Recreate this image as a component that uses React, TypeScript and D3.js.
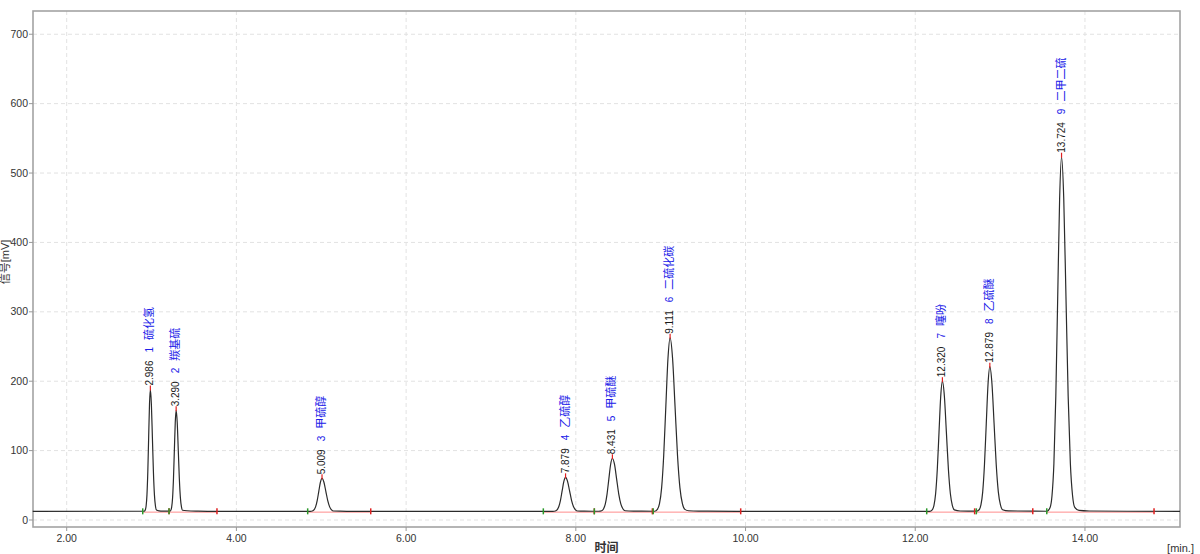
import React, { useEffect, useRef } from 'react';
import * as d3 from 'd3';

// peak table (retention time, apex signal, name, integration window)
const peakTimes = [2.986, 3.29, 5.009, 7.879, 8.431, 9.111, 12.32, 12.879, 13.724];
const peakHeights = [188, 158, 60, 61.5, 89, 262.5, 200, 221, 523.5];
const peakNames = ['硫化氢', '羰基硫', '甲硫醇', '乙硫醇', '甲硫醚', '二硫化碳', '噻吩', '乙硫醚', '二甲二硫'];
const peakStarts = [2.896, 3.206, 4.84, 7.617, 8.218, 8.912, 12.135, 12.72, 13.55];
const peakEnds = [3.206, 3.771, 5.583, 8.218, 8.902, 9.943, 12.7, 13.385, 14.814];

const baselineLevel = 12.5;

const xTicks = [2, 4, 6, 8, 10, 12, 14];
const yTicks = [0, 100, 200, 300, 400, 500, 600, 700];

// detector trace [min, mV]
const trace: [number, number][] = [
  [1.6, 12.5], [2.9, 12.6], [2.916, 12.8],
  [2.926, 14.4], [2.936, 20.2], [2.946, 36.2], [2.956, 69.5], [2.966, 119], [2.976, 167.3], [2.986, 188],
  [2.998, 167.3], [3.01, 119], [3.022, 69.5], [3.034, 36.2], [3.046, 20.2], [3.058, 14.4], [3.09, 13.2], [3.13, 12.8],
  [3.215, 12.8],
  [3.227, 14.1], [3.2375, 18.9], [3.248, 32.1], [3.2585, 59.8], [3.269, 100.8], [3.2795, 140.8], [3.29, 158],
  [3.3025, 140.8], [3.315, 100.8], [3.3275, 59.8], [3.34, 32.1], [3.3525, 18.9], [3.365, 14.1], [3.42, 13.3], [3.55, 12.8], [3.77, 12.5],
  [4.87, 12.5],
  [4.895, 13.0], [4.914, 14.6], [4.933, 18.9], [4.952, 27.9], [4.971, 41.3], [4.99, 54.4], [5.009, 60],
  [5.0315, 54.4], [5.054, 41.3], [5.0765, 27.9], [5.099, 18.9], [5.1215, 14.6], [5.144, 13.0], [5.22, 12.7], [5.4, 12.5],
  [7.73, 12.5],
  [7.759, 13.0], [7.779, 14.7], [7.799, 19.1], [7.819, 28.4], [7.839, 42.2], [7.859, 55.7], [7.879, 61.5],
  [7.9025, 55.7], [7.926, 42.2], [7.9495, 28.4], [7.973, 19.1], [7.9965, 14.7], [8.02, 13.0], [8.1, 12.7],
  [8.27, 12.6],
  [8.305, 13.3], [8.326, 15.9], [8.347, 22.8], [8.368, 37.4], [8.389, 58.9], [8.41, 80.0], [8.431, 89],
  [8.456, 80.0], [8.481, 58.9], [8.506, 37.4], [8.531, 22.8], [8.556, 15.9], [8.581, 13.3], [8.68, 12.8],
  [8.93, 12.6],
  [8.961, 15.3], [8.986, 23.5], [9.011, 46.3], [9.036, 93.8], [9.061, 164.3], [9.086, 233], [9.111, 262.5],
  [9.14, 233], [9.169, 164.3], [9.198, 93.8], [9.227, 46.3], [9.256, 23.5], [9.285, 15.3], [9.33, 13.3], [9.45, 12.8], [9.9, 12.5],
  [12.17, 12.5],
  [12.2, 14.6], [12.22, 20.7], [12.24, 37.8], [12.26, 73.4], [12.28, 126.3], [12.3, 177.9], [12.32, 200],
  [12.3435, 177.9], [12.367, 126.3], [12.3905, 73.4], [12.414, 37.8], [12.4375, 20.7], [12.461, 14.6], [12.53, 13.0],
  [12.72, 12.7],
  [12.753, 14.8], [12.774, 21.7], [12.795, 40.6], [12.816, 80.3], [12.837, 139.1], [12.858, 196.4], [12.879, 221],
  [12.904, 196.4], [12.929, 139.1], [12.954, 80.3], [12.979, 40.6], [13.004, 21.7], [13.029, 14.8], [13.1, 13.1],
  [13.55, 12.6],
  [13.589, 18.1], [13.6115, 35], [13.634, 81.5], [13.6565, 178.5], [13.679, 322.5], [13.7015, 463.2], [13.724, 523.5],
  [13.75, 463.2], [13.776, 322.5], [13.802, 178.5], [13.828, 81.5], [13.854, 35], [13.88, 18.1], [13.93, 13.8], [14.05, 13.0],
  [14.5, 12.6], [15.12, 12.4],
];

const FONT = "'Liberation Sans', Arial, 'Noto Sans CJK SC', sans-serif";

const App: React.FC = () => {
  const svgRef = useRef<SVGSVGElement>(null);

  useEffect(() => {
    if (!svgRef.current) return;
    const W = 1200, H = 554;
    const left = 33, right = 1180, top = 11, bottom = 527;

    const svg = d3.select(svgRef.current);
    svg.selectAll('*').remove();
    svg.attr('width', W).attr('height', H);

    svg.append('rect').attr('width', W).attr('height', H).attr('fill', '#fff');

    const x = d3.scaleLinear().domain([1.603, 15.12]).range([left, right]);
    const y = d3.scaleLinear().domain([0, 733.5]).range([520, top]);

    // grid
    const grid = svg.append('g').attr('stroke', '#e2e2e2').attr('stroke-dasharray', '4,3').attr('stroke-width', 1);
    grid.selectAll('line.v').data(xTicks).enter().append('line')
      .attr('x1', d => x(d)).attr('x2', d => x(d)).attr('y1', top).attr('y2', bottom);
    grid.selectAll('line.h').data(yTicks).enter().append('line')
      .attr('x1', left).attr('x2', right).attr('y1', d => y(d)).attr('y2', d => y(d));

    // frame
    svg.append('rect')
      .attr('x', left).attr('y', top).attr('width', right - left).attr('height', bottom - top)
      .attr('fill', 'none').attr('stroke', '#a3a3a3').attr('stroke-width', 1.6);

    // y ticks
    const yAxis = svg.append('g');
    yAxis.selectAll('line').data(yTicks).enter().append('line')
      .attr('x1', left - 4).attr('x2', left).attr('y1', d => y(d)).attr('y2', d => y(d))
      .attr('stroke', '#999');
    yAxis.selectAll('text').data(yTicks).enter().append('text')
      .attr('x', left - 5).attr('y', d => y(d)).attr('dy', '0.35em')
      .attr('text-anchor', 'end').attr('font-family', FONT).attr('font-size', 10.5).attr('fill', '#333')
      .text(d => String(d));

    // x ticks
    const xAxis = svg.append('g');
    xAxis.selectAll('line').data(xTicks).enter().append('line')
      .attr('x1', d => x(d)).attr('x2', d => x(d)).attr('y1', bottom).attr('y2', bottom + 4)
      .attr('stroke', '#999');
    xAxis.selectAll('text').data(xTicks).enter().append('text')
      .attr('x', d => x(d)).attr('y', 542)
      .attr('text-anchor', 'middle').attr('font-family', FONT).attr('font-size', 10.5).attr('fill', '#333')
      .text(d => d.toFixed(2));

    // axis titles
    svg.append('text')
      .attr('x', (left + right) / 2).attr('y', 552).attr('text-anchor', 'middle')
      .attr('font-family', FONT).attr('font-size', 12).attr('font-weight', 'bold').attr('fill', '#333')
      .text('时间');
    svg.append('text')
      .attr('x', 1194).attr('y', 552).attr('text-anchor', 'end')
      .attr('font-family', FONT).attr('font-size', 11).attr('fill', '#333')
      .text('[min.]');
    svg.append('text')
      .attr('transform', `translate(6,${262}) rotate(-90)`)
      .attr('text-anchor', 'middle').attr('dominant-baseline', 'middle')
      .attr('font-family', FONT).attr('font-size', 11).attr('fill', '#333')
      .text('信号[mV]');

    const plot = svg.append('g');

    // integration baselines
    const yb = y(baselineLevel);
    plot.selectAll('line.base').data(peakStarts).enter().append('line')
      .attr('x1', (d) => x(d)).attr('x2', (_, i) => x(peakEnds[i]))
      .attr('y1', yb + 0.8).attr('y2', yb + 0.8)
      .attr('stroke', '#ff8c8c').attr('stroke-width', 1);

    // trace
    const line = d3.line<[number, number]>()
      .x(d => x(d[0])).y(d => y(d[1]))
      .curve(d3.curveMonotoneX);
    plot.append('path').datum(trace)
      .attr('d', line)
      .attr('fill', 'none').attr('stroke', '#2b2b2b').attr('stroke-width', 1.2);

    // start / end markers
    plot.selectAll('line.end').data(peakEnds).enter().append('line')
      .attr('x1', d => x(d)).attr('x2', d => x(d)).attr('y1', yb - 3).attr('y2', yb + 3)
      .attr('stroke', '#e02020').attr('stroke-width', 1.5);
    plot.selectAll('line.start').data(peakStarts).enter().append('line')
      .attr('x1', d => x(d)).attr('x2', d => x(d)).attr('y1', yb - 3).attr('y2', yb + 3)
      .attr('stroke', '#2a9a2a').attr('stroke-width', 1.5);

    // apex markers
    plot.selectAll('line.apex').data(peakTimes).enter().append('line')
      .attr('x1', d => x(d)).attr('x2', d => x(d))
      .attr('y1', (_, i) => y(peakHeights[i]) - 4).attr('y2', (_, i) => y(peakHeights[i]) + 1)
      .attr('stroke', '#e02020').attr('stroke-width', 1.2);

    // peak labels
    const labels = plot.selectAll('text.peak').data(peakTimes).enter().append('text')
      .attr('transform', (d, i) => `translate(${x(d)},${y(peakHeights[i]) - 4}) rotate(-90)`)
      .attr('dominant-baseline', 'middle')
      .attr('font-family', FONT).attr('font-size', 10);
    labels.append('tspan').attr('fill', '#1a1a1a').text(d => d.toFixed(3));
    labels.append('tspan').attr('dx', 8).attr('fill', '#2020e8').text((_, i) => String(i + 1));
    labels.append('tspan').attr('dx', 7).attr('fill', '#2020e8').attr('font-size', 11)
      .text((_, i) => peakNames[i]);
  }, []);

  return <svg ref={svgRef} style={{ position: 'absolute', left: 0, top: 0, display: 'block' }} />;
};

export default App;
